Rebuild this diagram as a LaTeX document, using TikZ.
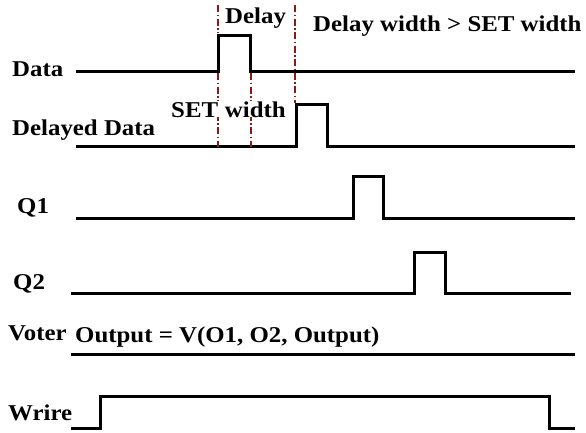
\documentclass[tikz,border=0pt]{standalone}
\usepackage{fontspec}
\setmainfont{Liberation Serif}[FakeStretch=1.1]
\definecolor{darkred}{RGB}{140,24,24}
\begin{document}
\begin{tikzpicture}[x=1pt,y=-1pt,
  wave/.style={line width=3pt, line join=miter, line cap=rect},
  marker/.style={draw=darkred, line width=1.4pt, dash pattern=on 7pt off 2.5pt on 1.5pt off 2.5pt},
  lbl/.style={anchor=base west, inner sep=0pt, font=\bfseries\fontsize{22.6}{25}\selectfont}]
\useasboundingbox (0,0) rectangle (586,432);
% waveforms
\draw[wave] (77,71) -- (218,71) -- (218,35) -- (250,35) -- (250,71) -- (573,71);
\draw[wave] (77,146) -- (296,146) -- (296,104) -- (327,104) -- (327,146) -- (573,146);
\draw[wave] (77,218) -- (353,218) -- (353,176) -- (383,176) -- (383,218) -- (573,218);
\draw[wave] (72,293) -- (414,293) -- (414,252) -- (445,252) -- (445,293) -- (569,293);
\draw[wave] (72,354) -- (573,354);
\draw[wave] (72,428) -- (100,428) -- (100,396) -- (549,396) -- (549,428) -- (573,428);
% markers
\draw[marker] (218,5) -- (218,33);
\draw[marker] (218,73) -- (218,147);
\draw[marker] (251,73) -- (251,147);
\draw[marker] (295,5) -- (295,103);
% labels
\node[lbl] (delay) at (225,23) {Delay};
\node[lbl] (cond) at (313,31.5) {Delay width > SET width};
\node[lbl] (data) at (12,76) {Data};
\node[lbl, fill=white] (setw) at (171,117) {SET\hspace{0.3em}width};
\node[lbl] (ddata) at (12,135) {Delayed Data};
\node[lbl] (q1) at (17,213) {Q1};
\node[lbl] (q2) at (13,289) {Q2};
\node[lbl] (voter) at (8,340) {Voter};
\node[lbl] (vout) at (75,342) {Output = V(O1, O2, Output)};
\node[lbl] (wrire) at (8,420) {Wrire};
\end{tikzpicture}
\end{document}
